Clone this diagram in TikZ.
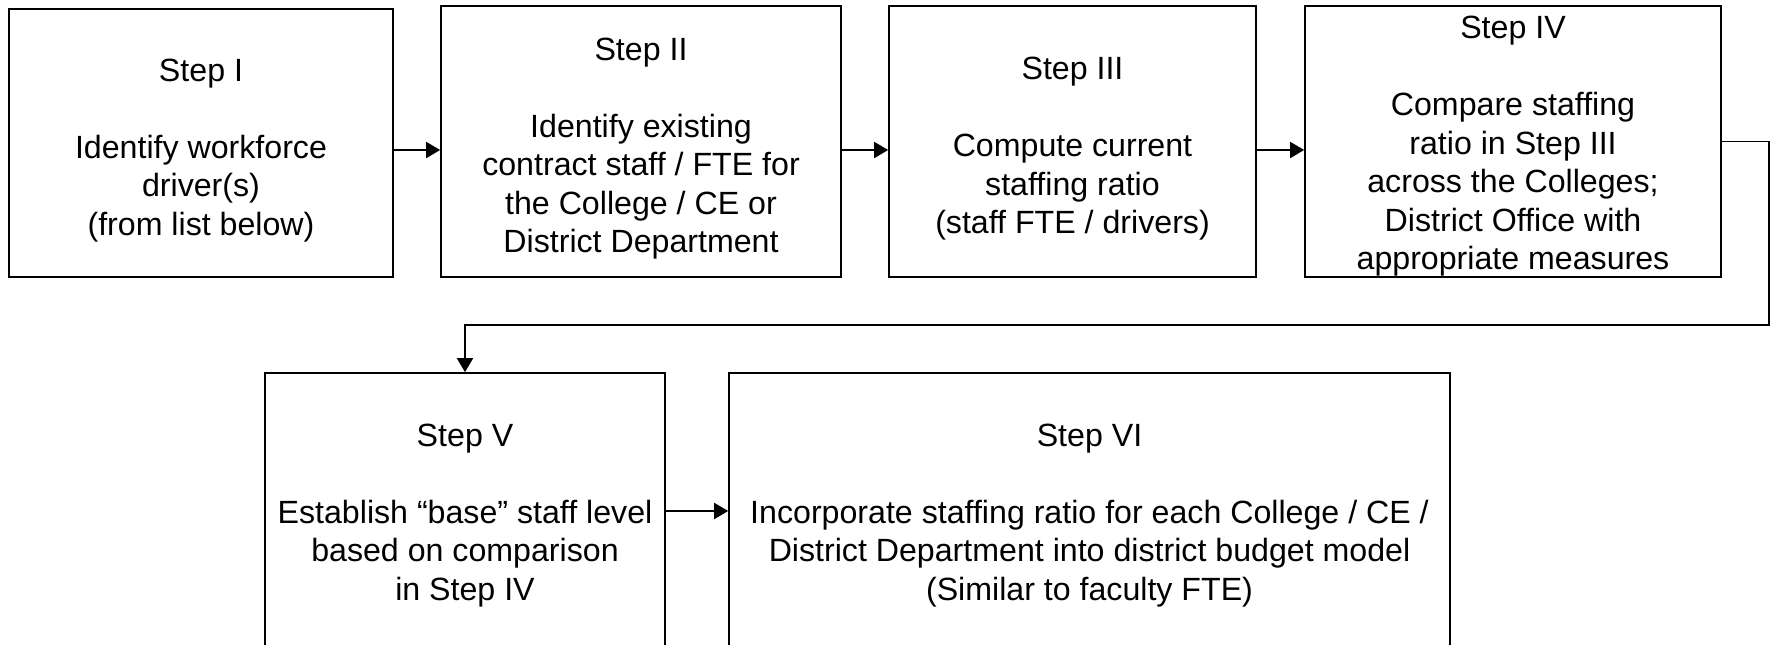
\documentclass[tikz,border=0pt]{standalone}
\usepackage{fontspec}
\setmainfont{Liberation Sans}
\usetikzlibrary{arrows.meta}
\newcommand{\hdgap}[1]{\rule{0pt}{#1}}
\begin{document}
\begin{tikzpicture}[x=0.02cm, y=-0.02cm, >={Triangle[length=0.28cm,width=0.32cm]},
    stepbox/.style={draw, line width=1pt, inner sep=0pt, align=center,
        font=\fontsize{18.3}{21.9}\selectfont},
    arr/.style={->, line width=1pt}]
\useasboundingbox (0,0) rectangle (1774,645);
\node[stepbox, minimum width=7.68cm, minimum height=5.36cm] (s1) at (201,143)
    {\hdgap{21pt}Step I\\[\baselineskip]Identify workforce\\driver(s)\\(from list below)};
\node[stepbox, minimum width=8cm, minimum height=5.42cm] (s2) at (641,141.5)
    {\hdgap{21pt}Step II\\[\baselineskip]Identify existing\\contract staff / FTE for\\the College / CE or\\District Department};
\node[stepbox, minimum width=7.34cm, minimum height=5.42cm] (s3) at (1072.5,141.5)
    {\hdgap{21pt}Step III\\[\baselineskip]Compute current\\staffing ratio\\(staff FTE / drivers)};
\node[stepbox, minimum width=8.32cm, minimum height=5.42cm] (s4) at (1513,141.5)
    {\hdgap{18.5pt}Step IV\\[\baselineskip]Compare staffing\\ratio in Step III\\across the Colleges;\\District Office with\\appropriate measures};
\node[stepbox, minimum width=8cm, minimum height=5.52cm] (s5) at (465,511)
    {\hdgap{18pt}Step V\\[\baselineskip]Establish “base” staff level\\based on comparison\\in Step IV};
\node[stepbox, minimum width=14.42cm, minimum height=5.52cm] (s6) at (1089.5,511)
    {\hdgap{18pt}Step VI\\[\baselineskip]Incorporate staffing ratio for each College / CE /\\District Department into district budget model\\(Similar to faculty FTE)};
\coordinate (bend) at (1769,325);
\draw[arr] ([yshift=-0.14cm]s1.east) -- ([yshift=-0.14cm]s1.east -| s2.west);
\draw[arr] ([yshift=-0.17cm]s2.east) -- ([yshift=-0.17cm]s2.east -| s3.west);
\draw[arr] ([yshift=-0.17cm]s3.east) -- ([yshift=-0.17cm]s3.east -| s4.west);
\draw[arr] (s4.east) -| (bend) -| (s5.north);
\draw[arr] (s5.east) -- (s6.west);
\end{tikzpicture}
\end{document}
